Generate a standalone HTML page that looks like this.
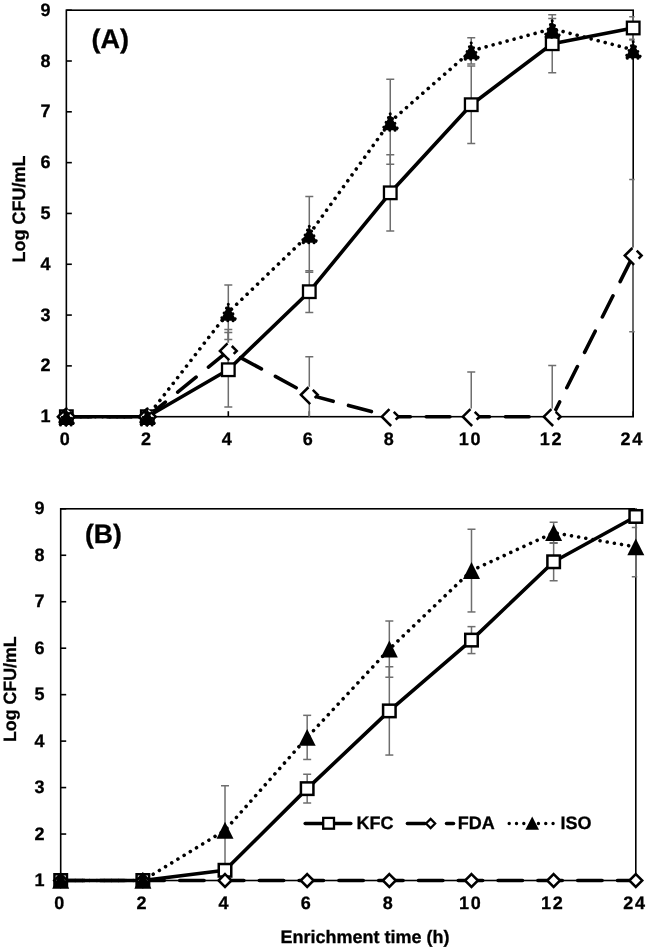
<!DOCTYPE html>
<html><head><meta charset="utf-8"><title>Figure</title>
<style>html,body{margin:0;padding:0;background:#fff}svg{display:block}text{font-family:"Liberation Sans",sans-serif;font-weight:bold;fill:#000;stroke:#000;stroke-width:.3px;text-rendering:geometricPrecision}</style>
</head><body>
<svg width="646" height="949" viewBox="0 0 646 949" style="display:block">
<rect width="646" height="949" fill="#fff"/>
<rect x="66.35" y="10.20" width="566.85" height="406.50" fill="none" stroke="#000" stroke-width="1.6"/>
<line x1="66.35" y1="416.70" x2="71.85" y2="416.70" stroke="#000" stroke-width="1.6"/>
<text x="50.60" y="422.20" text-anchor="end"  font-size="18">1</text>
<line x1="66.35" y1="365.89" x2="71.85" y2="365.89" stroke="#000" stroke-width="1.6"/>
<text x="50.60" y="371.39" text-anchor="end"  font-size="18">2</text>
<line x1="66.35" y1="315.07" x2="71.85" y2="315.07" stroke="#000" stroke-width="1.6"/>
<text x="50.60" y="320.57" text-anchor="end"  font-size="18">3</text>
<line x1="66.35" y1="264.26" x2="71.85" y2="264.26" stroke="#000" stroke-width="1.6"/>
<text x="50.60" y="269.76" text-anchor="end"  font-size="18">4</text>
<line x1="66.35" y1="213.45" x2="71.85" y2="213.45" stroke="#000" stroke-width="1.6"/>
<text x="50.60" y="218.95" text-anchor="end"  font-size="18">5</text>
<line x1="66.35" y1="162.64" x2="71.85" y2="162.64" stroke="#000" stroke-width="1.6"/>
<text x="50.60" y="168.14" text-anchor="end"  font-size="18">6</text>
<line x1="66.35" y1="111.82" x2="71.85" y2="111.82" stroke="#000" stroke-width="1.6"/>
<text x="50.60" y="117.32" text-anchor="end"  font-size="18">7</text>
<line x1="66.35" y1="61.01" x2="71.85" y2="61.01" stroke="#000" stroke-width="1.6"/>
<text x="50.60" y="66.51" text-anchor="end"  font-size="18">8</text>
<line x1="66.35" y1="10.20" x2="71.85" y2="10.20" stroke="#000" stroke-width="1.6"/>
<text x="50.60" y="15.70" text-anchor="end"  font-size="18">9</text>
<line x1="66.35" y1="416.70" x2="66.35" y2="411.20" stroke="#000" stroke-width="1.6"/>
<text x="59.85" y="445.10"  font-size="18" letter-spacing="1.8">0</text>
<line x1="147.33" y1="416.70" x2="147.33" y2="411.20" stroke="#000" stroke-width="1.6"/>
<text x="140.89" y="445.10"  font-size="18" letter-spacing="1.8">2</text>
<line x1="228.31" y1="416.70" x2="228.31" y2="411.20" stroke="#000" stroke-width="1.6"/>
<text x="221.74" y="445.10"  font-size="18" letter-spacing="1.8">4</text>
<line x1="309.29" y1="416.70" x2="309.29" y2="411.20" stroke="#000" stroke-width="1.6"/>
<text x="302.79" y="445.10"  font-size="18" letter-spacing="1.8">6</text>
<line x1="390.26" y1="416.70" x2="390.26" y2="411.20" stroke="#000" stroke-width="1.6"/>
<text x="383.70" y="445.10"  font-size="18" letter-spacing="1.8">8</text>
<line x1="471.24" y1="416.70" x2="471.24" y2="411.20" stroke="#000" stroke-width="1.6"/>
<text x="458.65" y="445.10"  font-size="18" letter-spacing="1.8">10</text>
<line x1="552.22" y1="416.70" x2="552.22" y2="411.20" stroke="#000" stroke-width="1.6"/>
<text x="539.63" y="445.10"  font-size="18" letter-spacing="1.8">12</text>
<line x1="633.20" y1="416.70" x2="633.20" y2="411.20" stroke="#000" stroke-width="1.6"/>
<text x="620.54" y="445.10"  font-size="18" letter-spacing="1.8">24</text>
<clipPath id="clipA"><rect x="56.35" y="9.40" width="578.25" height="408.10"/></clipPath>
<g clip-path="url(#clipA)">
<line x1="228.31" y1="332.50" x2="228.31" y2="406.99" stroke="#6e6e6e" stroke-width="1.5"/>
<line x1="224.31" y1="332.50" x2="232.31" y2="332.50" stroke="#6e6e6e" stroke-width="1.5"/>
<line x1="224.31" y1="406.99" x2="232.31" y2="406.99" stroke="#6e6e6e" stroke-width="1.5"/>
<line x1="309.29" y1="270.87" x2="309.29" y2="312.53" stroke="#6e6e6e" stroke-width="1.5"/>
<line x1="305.29" y1="270.87" x2="313.29" y2="270.87" stroke="#6e6e6e" stroke-width="1.5"/>
<line x1="305.29" y1="312.53" x2="313.29" y2="312.53" stroke="#6e6e6e" stroke-width="1.5"/>
<line x1="390.26" y1="154.66" x2="390.26" y2="230.98" stroke="#6e6e6e" stroke-width="1.5"/>
<line x1="386.26" y1="154.66" x2="394.26" y2="154.66" stroke="#6e6e6e" stroke-width="1.5"/>
<line x1="386.26" y1="230.98" x2="394.26" y2="230.98" stroke="#6e6e6e" stroke-width="1.5"/>
<line x1="471.24" y1="65.89" x2="471.24" y2="143.53" stroke="#6e6e6e" stroke-width="1.5"/>
<line x1="467.24" y1="65.89" x2="475.24" y2="65.89" stroke="#6e6e6e" stroke-width="1.5"/>
<line x1="467.24" y1="143.53" x2="475.24" y2="143.53" stroke="#6e6e6e" stroke-width="1.5"/>
<line x1="552.22" y1="14.77" x2="552.22" y2="72.70" stroke="#6e6e6e" stroke-width="1.5"/>
<line x1="548.22" y1="14.77" x2="556.22" y2="14.77" stroke="#6e6e6e" stroke-width="1.5"/>
<line x1="548.22" y1="72.70" x2="556.22" y2="72.70" stroke="#6e6e6e" stroke-width="1.5"/>
<line x1="633.20" y1="16.81" x2="633.20" y2="39.16" stroke="#6e6e6e" stroke-width="1.5"/>
<line x1="629.20" y1="16.81" x2="637.20" y2="16.81" stroke="#6e6e6e" stroke-width="1.5"/>
<line x1="629.20" y1="39.16" x2="637.20" y2="39.16" stroke="#6e6e6e" stroke-width="1.5"/>
<line x1="228.31" y1="329.56" x2="228.31" y2="372.24" stroke="#6e6e6e" stroke-width="1.5"/>
<line x1="224.31" y1="329.56" x2="232.31" y2="329.56" stroke="#6e6e6e" stroke-width="1.5"/>
<line x1="224.31" y1="372.24" x2="232.31" y2="372.24" stroke="#6e6e6e" stroke-width="1.5"/>
<line x1="309.29" y1="356.74" x2="309.29" y2="416.70" stroke="#6e6e6e" stroke-width="1.5"/>
<line x1="305.29" y1="356.74" x2="313.29" y2="356.74" stroke="#6e6e6e" stroke-width="1.5"/>
<line x1="471.24" y1="371.99" x2="471.24" y2="416.70" stroke="#6e6e6e" stroke-width="1.5"/>
<line x1="467.24" y1="371.99" x2="475.24" y2="371.99" stroke="#6e6e6e" stroke-width="1.5"/>
<line x1="552.22" y1="365.38" x2="552.22" y2="416.70" stroke="#6e6e6e" stroke-width="1.5"/>
<line x1="548.22" y1="365.38" x2="556.22" y2="365.38" stroke="#6e6e6e" stroke-width="1.5"/>
<line x1="633.20" y1="179.41" x2="633.20" y2="331.84" stroke="#6e6e6e" stroke-width="1.5"/>
<line x1="629.20" y1="179.41" x2="637.20" y2="179.41" stroke="#6e6e6e" stroke-width="1.5"/>
<line x1="629.20" y1="331.84" x2="637.20" y2="331.84" stroke="#6e6e6e" stroke-width="1.5"/>
<line x1="228.31" y1="285.10" x2="228.31" y2="339.46" stroke="#6e6e6e" stroke-width="1.5"/>
<line x1="224.31" y1="285.10" x2="232.31" y2="285.10" stroke="#6e6e6e" stroke-width="1.5"/>
<line x1="224.31" y1="339.46" x2="232.31" y2="339.46" stroke="#6e6e6e" stroke-width="1.5"/>
<line x1="309.29" y1="196.38" x2="309.29" y2="272.19" stroke="#6e6e6e" stroke-width="1.5"/>
<line x1="305.29" y1="196.38" x2="313.29" y2="196.38" stroke="#6e6e6e" stroke-width="1.5"/>
<line x1="305.29" y1="272.19" x2="313.29" y2="272.19" stroke="#6e6e6e" stroke-width="1.5"/>
<line x1="390.26" y1="79.31" x2="390.26" y2="164.16" stroke="#6e6e6e" stroke-width="1.5"/>
<line x1="386.26" y1="79.31" x2="394.26" y2="79.31" stroke="#6e6e6e" stroke-width="1.5"/>
<line x1="386.26" y1="164.16" x2="394.26" y2="164.16" stroke="#6e6e6e" stroke-width="1.5"/>
<line x1="471.24" y1="37.64" x2="471.24" y2="64.06" stroke="#6e6e6e" stroke-width="1.5"/>
<line x1="467.24" y1="37.64" x2="475.24" y2="37.64" stroke="#6e6e6e" stroke-width="1.5"/>
<line x1="467.24" y1="64.06" x2="475.24" y2="64.06" stroke="#6e6e6e" stroke-width="1.5"/>
<line x1="552.22" y1="18.58" x2="552.22" y2="38.91" stroke="#6e6e6e" stroke-width="1.5"/>
<line x1="548.22" y1="18.58" x2="556.22" y2="18.58" stroke="#6e6e6e" stroke-width="1.5"/>
<line x1="548.22" y1="38.91" x2="556.22" y2="38.91" stroke="#6e6e6e" stroke-width="1.5"/>
<line x1="633.20" y1="39.93" x2="633.20" y2="49.83" stroke="#6e6e6e" stroke-width="1.5"/>
<line x1="629.20" y1="39.93" x2="637.20" y2="39.93" stroke="#6e6e6e" stroke-width="1.5"/>
</g>
<polyline points="66.35,416.70 147.33,416.70 228.31,369.75 309.29,291.70 390.26,192.82 471.24,104.71 552.22,43.74 633.20,27.98" fill="none" stroke="#000" stroke-width="3.6" stroke-linejoin="round"/>
<polyline points="66.35,416.70 147.33,416.70 228.31,350.90 309.29,394.85 390.26,416.70 471.24,416.70 552.22,416.70 633.20,255.62" fill="none" stroke="#000" stroke-width="3.6" stroke-linejoin="round" stroke-linecap="round" stroke-dasharray="23.7 15.9" stroke-dashoffset="-1.3"/>
<polyline points="66.35,416.70 147.33,416.70 228.31,312.28 309.29,234.28 390.26,121.73 471.24,50.85 552.22,28.75 633.20,49.83" fill="none" stroke="#000" stroke-width="3.6" stroke-linejoin="round" stroke-linecap="round" stroke-dasharray="0.01 7.24" stroke-dashoffset="0"/>
<rect x="60.05" y="410.40" width="12.6" height="12.6" fill="#fff" stroke="#000" stroke-width="2.3"/>
<rect x="141.03" y="410.40" width="12.6" height="12.6" fill="#fff" stroke="#000" stroke-width="2.3"/>
<rect x="222.01" y="363.45" width="12.6" height="12.6" fill="#fff" stroke="#000" stroke-width="2.3"/>
<rect x="302.99" y="285.40" width="12.6" height="12.6" fill="#fff" stroke="#000" stroke-width="2.3"/>
<rect x="383.96" y="186.52" width="12.6" height="12.6" fill="#fff" stroke="#000" stroke-width="2.3"/>
<rect x="464.94" y="98.41" width="12.6" height="12.6" fill="#fff" stroke="#000" stroke-width="2.3"/>
<rect x="545.92" y="37.44" width="12.6" height="12.6" fill="#fff" stroke="#000" stroke-width="2.3"/>
<rect x="626.90" y="21.68" width="12.6" height="12.6" fill="#fff" stroke="#000" stroke-width="2.3"/>
<polygon points="66.35,408.30 74.75,416.70 66.35,425.10 57.95,416.70" fill="#fff" stroke="none"/>
<polyline points="65.55,409.10 57.95,416.70 66.35,425.10 67.25,424.20" fill="none" stroke="#000" stroke-width="2.55" stroke-linejoin="miter"/>
<polyline points="69.85,411.80 74.75,416.70 71.75,419.70" fill="none" stroke="#000" stroke-width="2.55" stroke-linejoin="miter"/>
<polygon points="147.33,408.30 155.73,416.70 147.33,425.10 138.93,416.70" fill="#fff" stroke="none"/>
<polyline points="146.53,409.10 138.93,416.70 147.33,425.10 148.23,424.20" fill="none" stroke="#000" stroke-width="2.55" stroke-linejoin="miter"/>
<polyline points="150.83,411.80 155.73,416.70 152.73,419.70" fill="none" stroke="#000" stroke-width="2.55" stroke-linejoin="miter"/>
<polygon points="228.31,342.50 236.71,350.90 228.31,359.30 219.91,350.90" fill="#fff" stroke="none"/>
<polyline points="227.51,343.30 219.91,350.90 228.31,359.30 229.21,358.40" fill="none" stroke="#000" stroke-width="2.55" stroke-linejoin="miter"/>
<polyline points="231.81,346.00 236.71,350.90 233.71,353.90" fill="none" stroke="#000" stroke-width="2.55" stroke-linejoin="miter"/>
<polygon points="309.29,386.45 317.69,394.85 309.29,403.25 300.89,394.85" fill="#fff" stroke="none"/>
<polyline points="308.49,387.25 300.89,394.85 309.29,403.25 310.19,402.35" fill="none" stroke="#000" stroke-width="2.55" stroke-linejoin="miter"/>
<polyline points="312.79,389.95 317.69,394.85 314.69,397.85" fill="none" stroke="#000" stroke-width="2.55" stroke-linejoin="miter"/>
<polygon points="390.26,408.30 398.66,416.70 390.26,425.10 381.86,416.70" fill="#fff" stroke="none"/>
<polyline points="389.46,409.10 381.86,416.70 390.26,425.10 391.16,424.20" fill="none" stroke="#000" stroke-width="2.55" stroke-linejoin="miter"/>
<polyline points="393.76,411.80 398.66,416.70 395.66,419.70" fill="none" stroke="#000" stroke-width="2.55" stroke-linejoin="miter"/>
<polygon points="471.24,408.30 479.64,416.70 471.24,425.10 462.84,416.70" fill="#fff" stroke="none"/>
<polyline points="470.44,409.10 462.84,416.70 471.24,425.10 472.14,424.20" fill="none" stroke="#000" stroke-width="2.55" stroke-linejoin="miter"/>
<polyline points="474.74,411.80 479.64,416.70 476.64,419.70" fill="none" stroke="#000" stroke-width="2.55" stroke-linejoin="miter"/>
<polygon points="552.22,408.30 560.62,416.70 552.22,425.10 543.82,416.70" fill="#fff" stroke="none"/>
<polyline points="551.42,409.10 543.82,416.70 552.22,425.10 553.12,424.20" fill="none" stroke="#000" stroke-width="2.55" stroke-linejoin="miter"/>
<polyline points="555.72,411.80 560.62,416.70 557.62,419.70" fill="none" stroke="#000" stroke-width="2.55" stroke-linejoin="miter"/>
<polygon points="633.20,247.22 641.60,255.62 633.20,264.02 624.80,255.62" fill="#fff" stroke="none"/>
<polyline points="632.40,248.02 624.80,255.62 633.20,264.02 634.10,263.12" fill="none" stroke="#000" stroke-width="2.55" stroke-linejoin="miter"/>
<polyline points="636.70,250.72 641.60,255.62 638.60,258.62" fill="none" stroke="#000" stroke-width="2.55" stroke-linejoin="miter"/>
<polygon points="66.35,408.80 74.25,425.10 58.45,425.10" fill="#000" stroke="#000" stroke-width="3" stroke-linecap="round" stroke-linejoin="round" stroke-dasharray="0.01 5.3"/>
<polygon points="147.33,408.80 155.23,425.10 139.43,425.10" fill="#000" stroke="#000" stroke-width="3" stroke-linecap="round" stroke-linejoin="round" stroke-dasharray="0.01 5.3"/>
<polygon points="228.31,304.38 236.21,320.68 220.41,320.68" fill="#000" stroke="#000" stroke-width="3" stroke-linecap="round" stroke-linejoin="round" stroke-dasharray="0.01 5.3"/>
<polygon points="309.29,226.38 317.19,242.68 301.39,242.68" fill="#000" stroke="#000" stroke-width="3" stroke-linecap="round" stroke-linejoin="round" stroke-dasharray="0.01 5.3"/>
<polygon points="390.26,113.83 398.16,130.13 382.36,130.13" fill="#000" stroke="#000" stroke-width="3" stroke-linecap="round" stroke-linejoin="round" stroke-dasharray="0.01 5.3"/>
<polygon points="471.24,42.95 479.14,59.25 463.34,59.25" fill="#000" stroke="#000" stroke-width="3" stroke-linecap="round" stroke-linejoin="round" stroke-dasharray="0.01 5.3"/>
<polygon points="552.22,20.85 560.12,37.15 544.32,37.15" fill="#000" stroke="#000" stroke-width="3" stroke-linecap="round" stroke-linejoin="round" stroke-dasharray="0.01 5.3"/>
<polygon points="633.20,41.93 641.10,58.23 625.30,58.23" fill="#000" stroke="#000" stroke-width="3" stroke-linecap="round" stroke-linejoin="round" stroke-dasharray="0.01 5.3"/>
<rect x="60.70" y="508.80" width="575.10" height="371.70" fill="none" stroke="#000" stroke-width="1.6"/>
<line x1="60.70" y1="880.50" x2="66.20" y2="880.50" stroke="#000" stroke-width="1.6"/>
<text x="44.60" y="886.00" text-anchor="end"  font-size="18">1</text>
<line x1="60.70" y1="834.04" x2="66.20" y2="834.04" stroke="#000" stroke-width="1.6"/>
<text x="44.60" y="839.54" text-anchor="end"  font-size="18">2</text>
<line x1="60.70" y1="787.58" x2="66.20" y2="787.58" stroke="#000" stroke-width="1.6"/>
<text x="44.60" y="793.08" text-anchor="end"  font-size="18">3</text>
<line x1="60.70" y1="741.11" x2="66.20" y2="741.11" stroke="#000" stroke-width="1.6"/>
<text x="44.60" y="746.61" text-anchor="end"  font-size="18">4</text>
<line x1="60.70" y1="694.65" x2="66.20" y2="694.65" stroke="#000" stroke-width="1.6"/>
<text x="44.60" y="700.15" text-anchor="end"  font-size="18">5</text>
<line x1="60.70" y1="648.19" x2="66.20" y2="648.19" stroke="#000" stroke-width="1.6"/>
<text x="44.60" y="653.69" text-anchor="end"  font-size="18">6</text>
<line x1="60.70" y1="601.73" x2="66.20" y2="601.73" stroke="#000" stroke-width="1.6"/>
<text x="44.60" y="607.23" text-anchor="end"  font-size="18">7</text>
<line x1="60.70" y1="555.26" x2="66.20" y2="555.26" stroke="#000" stroke-width="1.6"/>
<text x="44.60" y="560.76" text-anchor="end"  font-size="18">8</text>
<line x1="60.70" y1="508.80" x2="66.20" y2="508.80" stroke="#000" stroke-width="1.6"/>
<text x="44.60" y="514.30" text-anchor="end"  font-size="18">9</text>
<line x1="60.70" y1="880.50" x2="60.70" y2="875.00" stroke="#000" stroke-width="1.6"/>
<text x="54.20" y="908.60"  font-size="18" letter-spacing="1.8">0</text>
<line x1="142.86" y1="880.50" x2="142.86" y2="875.00" stroke="#000" stroke-width="1.6"/>
<text x="136.42" y="908.60"  font-size="18" letter-spacing="1.8">2</text>
<line x1="225.01" y1="880.50" x2="225.01" y2="875.00" stroke="#000" stroke-width="1.6"/>
<text x="218.45" y="908.60"  font-size="18" letter-spacing="1.8">4</text>
<line x1="307.17" y1="880.50" x2="307.17" y2="875.00" stroke="#000" stroke-width="1.6"/>
<text x="300.67" y="908.60"  font-size="18" letter-spacing="1.8">6</text>
<line x1="389.33" y1="880.50" x2="389.33" y2="875.00" stroke="#000" stroke-width="1.6"/>
<text x="382.77" y="908.60"  font-size="18" letter-spacing="1.8">8</text>
<line x1="471.49" y1="880.50" x2="471.49" y2="875.00" stroke="#000" stroke-width="1.6"/>
<text x="458.89" y="908.60"  font-size="18" letter-spacing="1.8">10</text>
<line x1="553.64" y1="880.50" x2="553.64" y2="875.00" stroke="#000" stroke-width="1.6"/>
<text x="541.05" y="908.60"  font-size="18" letter-spacing="1.8">12</text>
<line x1="635.80" y1="880.50" x2="635.80" y2="875.00" stroke="#000" stroke-width="1.6"/>
<text x="623.14" y="908.60"  font-size="18" letter-spacing="1.8">24</text>
<clipPath id="clipB"><rect x="50.70" y="508.00" width="586.50" height="373.30"/></clipPath>
<g clip-path="url(#clipB)">
<line x1="307.17" y1="774.24" x2="307.17" y2="803.05" stroke="#6e6e6e" stroke-width="1.5"/>
<line x1="303.17" y1="774.24" x2="311.17" y2="774.24" stroke="#6e6e6e" stroke-width="1.5"/>
<line x1="303.17" y1="803.05" x2="311.17" y2="803.05" stroke="#6e6e6e" stroke-width="1.5"/>
<line x1="389.33" y1="666.77" x2="389.33" y2="755.05" stroke="#6e6e6e" stroke-width="1.5"/>
<line x1="385.33" y1="666.77" x2="393.33" y2="666.77" stroke="#6e6e6e" stroke-width="1.5"/>
<line x1="385.33" y1="755.05" x2="393.33" y2="755.05" stroke="#6e6e6e" stroke-width="1.5"/>
<line x1="471.49" y1="626.63" x2="471.49" y2="653.58" stroke="#6e6e6e" stroke-width="1.5"/>
<line x1="467.49" y1="626.63" x2="475.49" y2="626.63" stroke="#6e6e6e" stroke-width="1.5"/>
<line x1="467.49" y1="653.58" x2="475.49" y2="653.58" stroke="#6e6e6e" stroke-width="1.5"/>
<line x1="553.64" y1="542.72" x2="553.64" y2="580.82" stroke="#6e6e6e" stroke-width="1.5"/>
<line x1="549.64" y1="542.72" x2="557.64" y2="542.72" stroke="#6e6e6e" stroke-width="1.5"/>
<line x1="549.64" y1="580.82" x2="557.64" y2="580.82" stroke="#6e6e6e" stroke-width="1.5"/>
<line x1="635.80" y1="505.55" x2="635.80" y2="527.38" stroke="#6e6e6e" stroke-width="1.5"/>
<line x1="631.80" y1="505.55" x2="639.80" y2="505.55" stroke="#6e6e6e" stroke-width="1.5"/>
<line x1="631.80" y1="527.38" x2="639.80" y2="527.38" stroke="#6e6e6e" stroke-width="1.5"/>
<line x1="225.01" y1="785.72" x2="225.01" y2="874.92" stroke="#6e6e6e" stroke-width="1.5"/>
<line x1="221.01" y1="785.72" x2="229.01" y2="785.72" stroke="#6e6e6e" stroke-width="1.5"/>
<line x1="221.01" y1="874.92" x2="229.01" y2="874.92" stroke="#6e6e6e" stroke-width="1.5"/>
<line x1="307.17" y1="715.33" x2="307.17" y2="759.47" stroke="#6e6e6e" stroke-width="1.5"/>
<line x1="303.17" y1="715.33" x2="311.17" y2="715.33" stroke="#6e6e6e" stroke-width="1.5"/>
<line x1="303.17" y1="759.47" x2="311.17" y2="759.47" stroke="#6e6e6e" stroke-width="1.5"/>
<line x1="389.33" y1="621.01" x2="389.33" y2="677.23" stroke="#6e6e6e" stroke-width="1.5"/>
<line x1="385.33" y1="621.01" x2="393.33" y2="621.01" stroke="#6e6e6e" stroke-width="1.5"/>
<line x1="385.33" y1="677.23" x2="393.33" y2="677.23" stroke="#6e6e6e" stroke-width="1.5"/>
<line x1="471.49" y1="529.24" x2="471.49" y2="611.95" stroke="#6e6e6e" stroke-width="1.5"/>
<line x1="467.49" y1="529.24" x2="475.49" y2="529.24" stroke="#6e6e6e" stroke-width="1.5"/>
<line x1="467.49" y1="611.95" x2="475.49" y2="611.95" stroke="#6e6e6e" stroke-width="1.5"/>
<line x1="553.64" y1="522.27" x2="553.64" y2="543.18" stroke="#6e6e6e" stroke-width="1.5"/>
<line x1="549.64" y1="522.27" x2="557.64" y2="522.27" stroke="#6e6e6e" stroke-width="1.5"/>
<line x1="549.64" y1="543.18" x2="557.64" y2="543.18" stroke="#6e6e6e" stroke-width="1.5"/>
<line x1="635.80" y1="517.16" x2="635.80" y2="576.64" stroke="#6e6e6e" stroke-width="1.5"/>
<line x1="631.80" y1="517.16" x2="639.80" y2="517.16" stroke="#6e6e6e" stroke-width="1.5"/>
<line x1="631.80" y1="576.64" x2="639.80" y2="576.64" stroke="#6e6e6e" stroke-width="1.5"/>
</g>
<polyline points="60.70,880.50 142.86,880.50 225.01,870.28 307.17,788.64 389.33,710.91 471.49,640.10 553.64,561.77 635.80,516.47" fill="none" stroke="#000" stroke-width="3.6" stroke-linejoin="round"/>
<polyline points="60.70,880.50 142.86,880.50 225.01,880.50 307.17,880.50 389.33,880.50 471.49,880.50 553.64,880.50 635.80,880.50" fill="none" stroke="#000" stroke-width="3.6" stroke-linejoin="round" stroke-linecap="round" stroke-dasharray="24.4 15.4" stroke-dashoffset="0.4"/>
<polyline points="60.70,880.50 142.86,880.50 225.01,830.32 307.17,737.40 389.33,649.12 471.49,570.60 553.64,532.73 635.80,546.90" fill="none" stroke="#000" stroke-width="3.6" stroke-linejoin="round" stroke-linecap="round" stroke-dasharray="0.01 7.24" stroke-dashoffset="0"/>
<rect x="54.45" y="874.25" width="12.5" height="12.5" fill="#fff" stroke="#000" stroke-width="2.5"/>
<rect x="136.61" y="874.25" width="12.5" height="12.5" fill="#fff" stroke="#000" stroke-width="2.5"/>
<rect x="218.76" y="864.03" width="12.5" height="12.5" fill="#fff" stroke="#000" stroke-width="2.5"/>
<rect x="300.92" y="782.39" width="12.5" height="12.5" fill="#fff" stroke="#000" stroke-width="2.5"/>
<rect x="383.08" y="704.66" width="12.5" height="12.5" fill="#fff" stroke="#000" stroke-width="2.5"/>
<rect x="465.24" y="633.85" width="12.5" height="12.5" fill="#fff" stroke="#000" stroke-width="2.5"/>
<rect x="547.39" y="555.52" width="12.5" height="12.5" fill="#fff" stroke="#000" stroke-width="2.5"/>
<rect x="629.55" y="510.22" width="12.5" height="12.5" fill="#fff" stroke="#000" stroke-width="2.5"/>
<polygon points="60.70,874.05 67.15,880.50 60.70,886.95 54.25,880.50" fill="#fff" stroke="#000" stroke-width="2.5"/>
<polygon points="142.86,874.05 149.31,880.50 142.86,886.95 136.41,880.50" fill="#fff" stroke="#000" stroke-width="2.5"/>
<polygon points="225.01,874.05 231.46,880.50 225.01,886.95 218.56,880.50" fill="#fff" stroke="#000" stroke-width="2.5"/>
<polygon points="307.17,874.05 313.62,880.50 307.17,886.95 300.72,880.50" fill="#fff" stroke="#000" stroke-width="2.5"/>
<polygon points="389.33,874.05 395.78,880.50 389.33,886.95 382.88,880.50" fill="#fff" stroke="#000" stroke-width="2.5"/>
<polygon points="471.49,874.05 477.94,880.50 471.49,886.95 465.04,880.50" fill="#fff" stroke="#000" stroke-width="2.5"/>
<polygon points="553.64,874.05 560.09,880.50 553.64,886.95 547.19,880.50" fill="#fff" stroke="#000" stroke-width="2.5"/>
<polygon points="635.80,874.05 642.25,880.50 635.80,886.95 629.35,880.50" fill="#fff" stroke="#000" stroke-width="2.5"/>
<polygon points="60.70,872.00 69.20,888.85 52.20,888.85" fill="#000"/>
<polygon points="142.86,872.00 151.36,888.85 134.36,888.85" fill="#000"/>
<polygon points="225.01,821.82 233.51,838.67 216.51,838.67" fill="#000"/>
<polygon points="307.17,728.90 315.67,745.75 298.67,745.75" fill="#000"/>
<polygon points="389.33,640.62 397.83,657.47 380.83,657.47" fill="#000"/>
<polygon points="471.49,562.10 479.99,578.95 462.99,578.95" fill="#000"/>
<polygon points="553.64,524.23 562.14,541.08 545.14,541.08" fill="#000"/>
<polygon points="635.80,538.40 644.30,555.25 627.30,555.25" fill="#000"/>
<text x="91.5" y="48.4"  font-size="27">(A)</text>
<text x="85" y="543.2"  font-size="26.5">(B)</text>
<text transform="translate(25,262.5) rotate(-90)"  font-size="18">Log CFU/mL</text>
<text transform="translate(16.2,742) rotate(-90)"  font-size="17.8">Log CFU/mL</text>
<text x="280.5" y="942.7"  font-size="18">Enrichment time (h)</text>
<line x1="305.2" y1="823.5" x2="350.8" y2="823.5" stroke="#000" stroke-width="3.5" stroke-linecap="round"/>
<rect x="323.20000000000005" y="817.9" width="10.8" height="10.8" fill="#fff" stroke="#000" stroke-width="2.3"/>
<text x="356.5" y="829.3"  font-size="18">KFC</text>
<line x1="407.4" y1="823.5" x2="425" y2="823.5" stroke="#000" stroke-width="3.5" stroke-linecap="round"/>
<line x1="446.5" y1="823.5" x2="453.5" y2="823.5" stroke="#000" stroke-width="3.5" stroke-linecap="round"/>
<polygon points="430.6,818.9 435.20000000000005,823.5 430.6,828.1 426.0,823.5" fill="#fff" stroke="#000" stroke-width="2.2"/>
<text x="457.8" y="829.3"  font-size="18">FDA</text>
<line x1="509.2" y1="823.5" x2="553.5" y2="823.5" stroke="#000" stroke-width="3.4" stroke-linecap="round" stroke-dasharray="0.01 7.3"/>
<polygon points="532.2,816.6 539.0,829.8 525.4000000000001,829.8" fill="#000"/>
<text x="560.5" y="829.3"  font-size="18">ISO</text>
</svg>
</body></html>
